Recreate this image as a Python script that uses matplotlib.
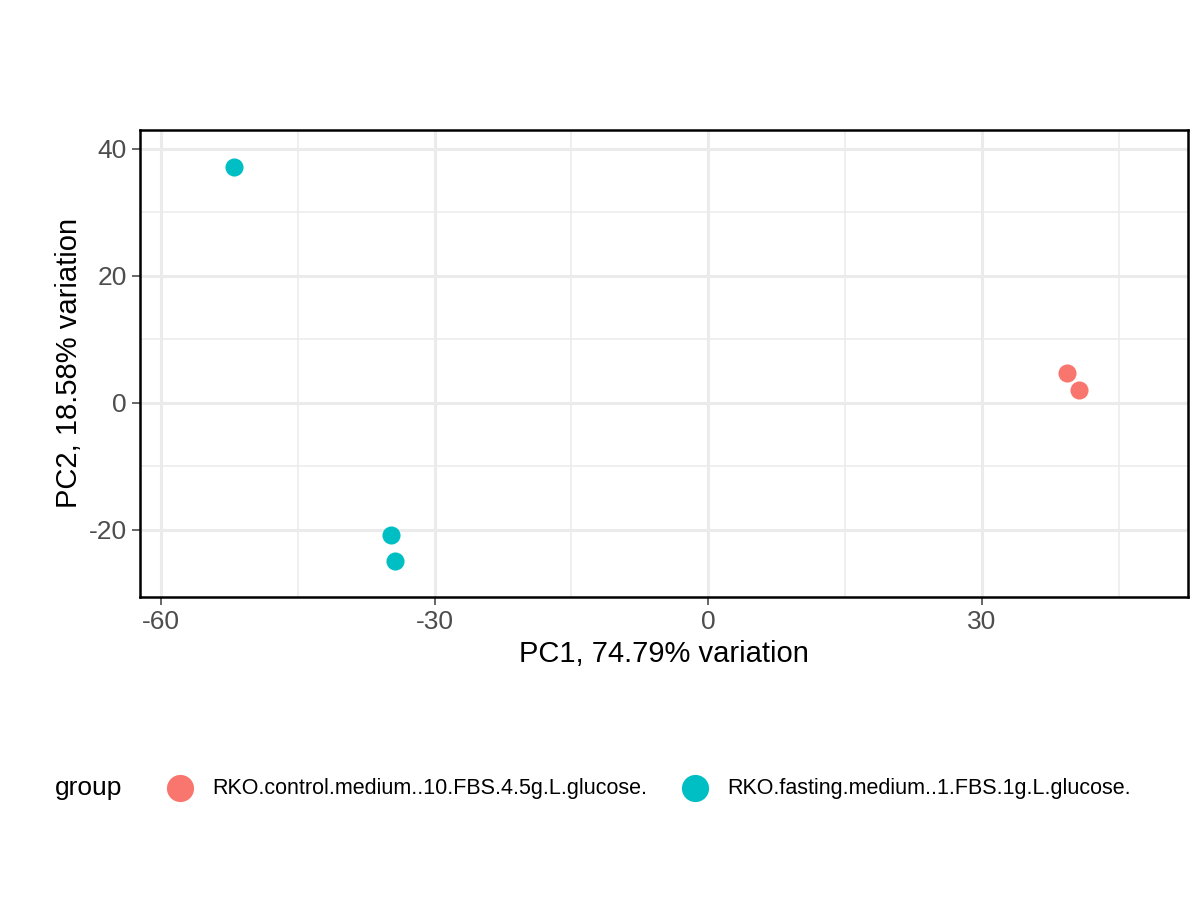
import matplotlib
matplotlib.use("Agg")
import matplotlib.pyplot as plt

plt.rcParams["font.family"] = ["Liberation Sans", "DejaVu Sans"]
plt.rcParams["axes.unicode_minus"] = False

groups = ["RKO.control.medium..10.FBS.4.5g.L.glucose.",
          "RKO.fasting.medium..1.FBS.1g.L.glucose."]
colors = ["#F8766D", "#00BFC4"]
pc1 = [[39.3, 40.7], [-52.0, -34.8, -34.3]]
pc2 = [[4.7, 2.0], [37.2, -20.8, -24.9]]

fig = plt.figure(figsize=(12, 9), dpi=100)
ax = fig.add_axes([0.1167, 0.3367, 0.8733, 0.519])
for g, c, xs, ys in zip(groups, colors, pc1, pc2):
    ax.scatter(xs, ys, s=170, color=c, label=g, zorder=3, linewidths=0)

ax.set_xlim(-62.3, 52.6)
ax.set_ylim(-30.55, 43.0)
ax.set_xticks([-60, -30, 0, 30])
ax.set_yticks([-20, 0, 20, 40])
ax.set_xticks([-45, -15, 15, 45], minor=True)
ax.set_yticks([-10, 10, 30], minor=True)
ax.grid(True, which="major", color="#EBEBEB", linewidth=2.2)
ax.grid(True, which="minor", color="#EBEBEB", linewidth=1.1)
ax.set_axisbelow(True)
for s in ax.spines.values():
    s.set_linewidth(1.8)
    s.set_color("black")
ax.tick_params(which="major", length=6, width=1.2, labelsize=19, colors="#4D4D4D")
ax.tick_params(which="minor", length=0)
ax.set_xlabel("PC1, 74.79% variation", fontsize=21, labelpad=4)
ax.set_ylabel("PC2, 18.58% variation", fontsize=21, labelpad=4)

fig.text(0.046, 0.124, "group", fontsize=19, va="center")
fig.legend(loc="center left", bbox_to_anchor=(0.116, 0.124), ncol=2, frameon=False,
           fontsize=15.5, handletextpad=0.5, columnspacing=1.2, markerscale=1.5)

fig.savefig("out.png", dpi=100)
